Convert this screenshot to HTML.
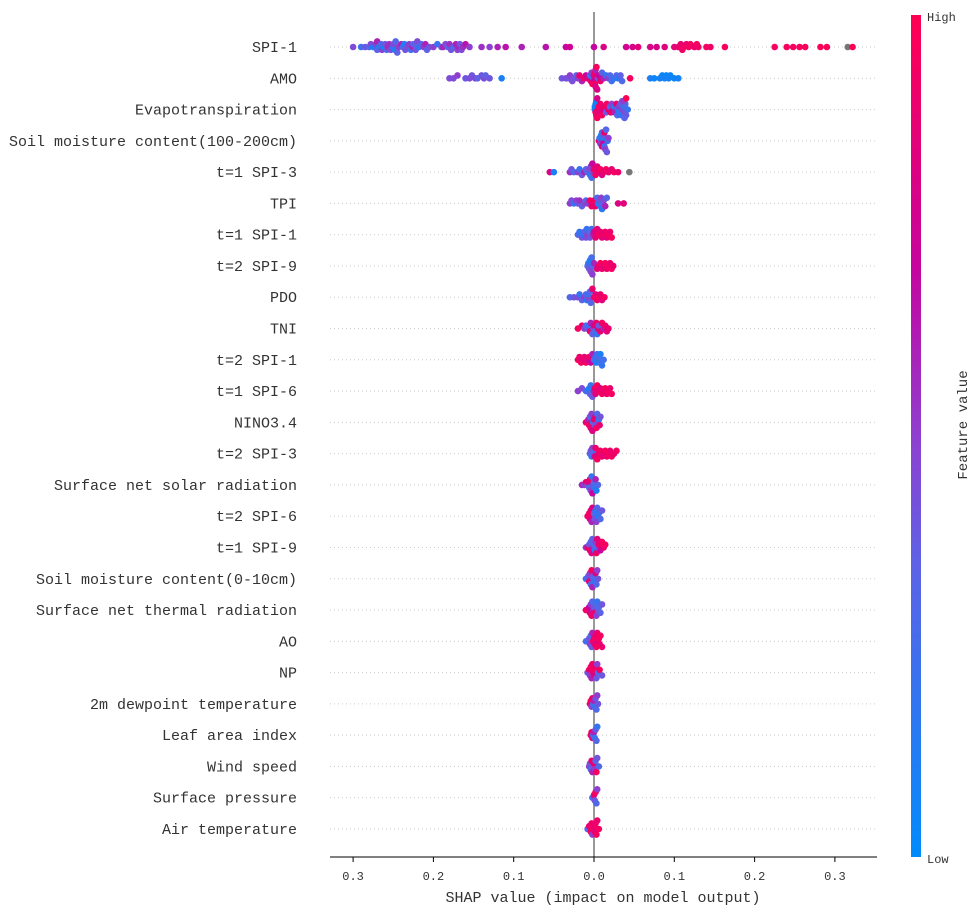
<!DOCTYPE html>
<html><head><meta charset="utf-8"><style>
html,body{margin:0;padding:0;background:#fff;}
svg{display:block;}
text{font-family:"Liberation Mono","Noto Serif CJK SC",monospace;fill:#333;}
</style></head><body>
<svg id="chart" width="978" height="913">
<defs><linearGradient id="cmap" x1="0" y1="1" x2="0" y2="0">
<stop offset="0" stop-color="#008bfb"/><stop offset="0.35" stop-color="#5e62e6"/><stop offset="0.5" stop-color="#8f3fcf"/><stop offset="0.7" stop-color="#c6049f"/><stop offset="1" stop-color="#ff0052"/>
</linearGradient></defs>
<g id="grid"></g><g id="ylabels"></g>
<line x1="594" y1="12" x2="594" y2="857" stroke="#999" stroke-width="2"/>
<g id="dots"></g>
<line x1="330" y1="857" x2="877" y2="857" stroke="#000" stroke-width="1"/>
<g id="xticks"></g>
<text x="603" y="902" font-size="15" text-anchor="middle">SHAP value (impact on model output)</text>
<rect x="911" y="15" width="10" height="842" fill="url(#cmap)"/>
<text x="927" y="21" font-size="12">High</text>
<text x="927" y="863" font-size="12">Low</text>
<text x="967" y="425" font-size="14" text-anchor="middle" transform="rotate(-90 967 425)">Feature value</text>
</svg>
<script>
const features = ["SPI-1","AMO","Evapotranspiration","Soil moisture content(100-200cm)","t=1 SPI-3","TPI","t=1 SPI-1","t=2 SPI-9","PDO","TNI","t=2 SPI-1","t=1 SPI-6","NINO3.4","t=2 SPI-3","Surface net solar radiation","t=2 SPI-6","t=1 SPI-9","Soil moisture content(0-10cm)","Surface net thermal radiation","AO","NP","2m dewpoint temperature","Leaf area index","Wind speed","Surface pressure","Air temperature"];
const tickValues = [-0.3,-0.2,-0.1,0,0.1,0.2,0.3];
const tickLabels = ["0.3","0.2","0.1","0.0","0.1","0.2","0.3"];
const shapValues = [
[-0.30,-0.29,-0.285,-0.28,-0.278,-0.275,-0.272,-0.27,-0.27,-0.268,-0.265,-0.264,-0.262,-0.26,-0.258,-0.257,-0.255,-0.253,-0.25,-0.25,-0.248,-0.247,-0.245,-0.243,-0.24,-0.238,-0.236,-0.235,-0.232,-0.23,-0.228,-0.226,-0.225,-0.222,-0.22,-0.218,-0.215,-0.212,-0.21,-0.208,-0.205,-0.2,-0.195,-0.19,-0.188,-0.185,-0.182,-0.18,-0.178,-0.175,-0.172,-0.17,-0.168,-0.167,-0.165,-0.163,-0.16,-0.155,-0.14,-0.13,-0.12,-0.11,-0.09,-0.06,-0.035,-0.03,0,0.012,0.04,0.048,0.055,0.07,0.078,0.088,0.1,0.105,0.108,0.11,0.112,0.115,0.118,0.12,0.125,0.128,0.13,0.14,0.145,0.163,0.225,0.24,0.248,0.256,0.263,0.282,0.29,0.316,0.322],
[-0.18,-0.175,-0.17,-0.16,-0.155,-0.152,-0.148,-0.145,-0.14,-0.137,-0.135,-0.13,-0.115,-0.04,-0.035,-0.032,-0.03,-0.027,-0.025,-0.022,-0.02,-0.018,-0.015,-0.012,-0.01,-0.008,-0.005,-0.004,-0.003,-0.002,-0.001,0,0,0.001,0.001,0.002,0.002,0.003,0.004,0.005,0.006,0.008,0.01,0.012,0.015,0.018,0.02,0.022,0.025,0.028,0.03,0.033,0.035,0.045,0.07,0.075,0.082,0.085,0.088,0.09,0.093,0.095,0.1,0.105],
[0.001,0.001,0.002,0.002,0.003,0.003,0.004,0.004,0.005,0.006,0.007,0.008,0.01,0.012,0.013,0.015,0.016,0.018,0.02,0.021,0.022,0.024,0.025,0.026,0.028,0.029,0.03,0.031,0.032,0.033,0.034,0.035,0.036,0.037,0.038,0.039,0.04,0.042,0.036,0.038,0.04],
[0.006,0.007,0.008,0.009,0.01,0.01,0.011,0.011,0.012,0.012,0.013,0.013,0.014,0.015,0.016,0.017,0.018],
[-0.055,-0.05,-0.03,-0.028,-0.025,-0.02,-0.018,-0.015,-0.012,-0.01,-0.008,-0.006,-0.005,-0.004,-0.003,-0.002,-0.001,0,0.002,0.004,0.006,0.008,0.01,0.012,0.015,0.018,0.022,0.025,0.03,0.044],
[-0.03,-0.028,-0.025,-0.022,-0.02,-0.018,-0.015,-0.012,-0.01,-0.008,-0.005,-0.003,-0.001,0,0.002,0.004,0.005,0.007,0.008,0.009,0.01,0.011,0.012,0.014,0.016,0.03,0.037],
[-0.02,-0.018,-0.015,-0.013,-0.012,-0.01,-0.009,-0.008,-0.006,-0.005,-0.003,-0.001,0,0.002,0.004,0.006,0.008,0.01,0.012,0.014,0.016,0.018,0.02,0.022],
[-0.008,-0.007,-0.006,-0.005,-0.004,-0.003,-0.002,-0.001,0,0.004,0.006,0.008,0.01,0.012,0.014,0.016,0.018,0.02,0.022,0.024],
[-0.03,-0.025,-0.02,-0.018,-0.015,-0.012,-0.01,-0.009,-0.008,-0.007,-0.006,-0.005,-0.004,-0.002,0,0.002,0.004,0.006,0.008,0.01,0.013],
[-0.02,-0.015,-0.012,-0.01,-0.008,-0.006,-0.005,-0.004,-0.002,-0.001,0,0.001,0.003,0.004,0.005,0.006,0.008,0.01,0.012,0.014,0.016,0.018],
[-0.02,-0.018,-0.016,-0.014,-0.012,-0.01,-0.008,-0.006,-0.004,-0.002,0,0.002,0.003,0.004,0.005,0.006,0.007,0.008,0.01,0.012],
[-0.02,-0.015,-0.01,-0.008,-0.006,-0.005,-0.004,-0.002,0,0.001,0.002,0.004,0.006,0.008,0.01,0.012,0.014,0.016,0.018,0.02,0.022],
[-0.01,-0.008,-0.007,-0.006,-0.005,-0.004,-0.003,-0.002,-0.001,0,0.001,0.002,0.003,0.004,0.005,0.006,0.007,0.008],
[-0.005,-0.004,-0.003,-0.002,-0.001,0,0.001,0.002,0.004,0.006,0.008,0.01,0.012,0.014,0.016,0.018,0.02,0.022,0.025,0.028],
[-0.015,-0.012,-0.01,-0.008,-0.007,-0.006,-0.005,-0.004,-0.003,-0.002,-0.001,0,0.001,0.002,0.003,0.005],
[-0.008,-0.006,-0.005,-0.004,-0.003,-0.002,-0.001,0,0.001,0.002,0.003,0.004,0.005,0.006,0.008,0.01],
[-0.01,-0.008,-0.006,-0.005,-0.004,-0.003,-0.002,-0.001,0,0.001,0.002,0.003,0.004,0.005,0.006,0.008,0.01,0.012,0.014],
[-0.01,-0.008,-0.007,-0.006,-0.005,-0.004,-0.003,-0.002,-0.001,0,0.001,0.002,0.003,0.004,0.005],
[-0.01,-0.008,-0.006,-0.005,-0.004,-0.003,-0.002,-0.001,0,0.001,0.002,0.003,0.004,0.005,0.006,0.008,0.01],
[-0.01,-0.008,-0.006,-0.005,-0.004,-0.003,-0.002,-0.001,0,0.001,0.002,0.003,0.004,0.005,0.006,0.007,0.008,0.01],
[-0.008,-0.006,-0.005,-0.004,-0.003,-0.002,-0.001,0,0.001,0.002,0.003,0.004,0.005,0.007,0.01],
[-0.005,-0.004,-0.003,-0.002,-0.001,0,0.001,0.002,0.003,0.004,0.005],
[-0.004,-0.003,-0.002,-0.001,0,0.001,0.002,0.003,0.004],
[-0.006,-0.005,-0.004,-0.003,-0.002,-0.001,0,0.001,0.002,0.003,0.004,0.006],
[-0.002,-0.001,0,0.001,0.002,0.003,0.004],
[-0.008,-0.006,-0.004,-0.003,-0.002,-0.001,0,0.001,0.002,0.003,0.004,0.006]
];
const featureValues = [
[0.45,0.2,0.4,0.3,0.45,0.1,0.5,0.35,0.6,0.2,0.3,0.5,0.05,0.4,0.3,0.55,0.55,0.45,0.2,0.45,0.1,0.3,0.35,0.5,0.6,0.3,0.1,0.4,0.45,0.5,0.25,0.6,0.35,0.4,0.45,0.2,0.3,0.5,0.6,0.35,0.4,0.5,0.2,0.35,0.6,0.45,0.3,0.55,0.4,0.3,0.6,0.5,0.6,0.4,0.45,0.55,0.65,0.5,0.55,0.5,0.6,0.65,0.6,0.65,0.7,0.75,0.7,0.8,0.75,0.8,0.85,0.8,0.78,0.82,0.85,0.9,0.88,0.92,0.95,0.9,0.93,0.95,0.9,0.95,0.93,0.95,0.92,0.95,0.95,0.96,0.95,0.97,0.96,0.98,0.97,null,0.98],
[0.45,0.45,0.5,0.4,0.45,0.4,0.45,0.35,0.4,0.45,0.35,0.4,0.1,0.4,0.45,0.4,0.5,0.45,0.4,0.35,0.5,0.9,0.6,0.95,0.7,0.8,0.2,0.9,0.5,0.95,0.3,0.85,0.7,0.9,0.95,0.6,0.8,0.95,0.8,0.4,0.7,0.9,0.3,0.6,0.2,0.5,0.3,0.25,0.2,0.3,0.15,0.35,0.3,0.95,0.1,0.05,0.08,0.05,0.1,0.05,0.08,0.05,0.06,0.08],
[0.1,0.05,0.95,0.1,0.9,0.05,0.95,0.8,0.9,0.95,0.85,0.9,0.95,0.8,0.9,0.4,0.95,0.85,0.3,0.9,0.5,0.8,0.2,0.6,0.9,0.3,0.1,0.5,0.2,0.4,0.15,0.3,0.5,0.2,0.45,0.3,0.4,0.2,0.5,0.35],
[0.9,0.2,0.5,0.1,0.8,0.3,0.6,0.1,0.7,0.4,0.2,0.9,0.5,0.3,0.4,0.2,0.5],
[0.8,0.1,0.55,0.4,0.3,0.5,0.2,0.4,0.6,0.35,0.3,0.45,0.15,0.5,0.25,0.7,0.5,0.9,0.95,0.85,0.9,0.95,0.8,0.9,0.95,0.9,0.85,0.95,0.9,null],
[0.5,0.45,0.2,0.5,0.4,0.55,0.35,0.45,0.3,0.5,0.95,0.9,0.85,0.95,0.9,0.3,0.1,0.4,0.2,0.5,0.15,0.35,0.45,0.6,0.3,0.8,0.85],
[0.3,0.2,0.4,0.1,0.35,0.45,0.2,0.5,0.3,0.4,0.25,0.6,0.8,0.9,0.85,0.95,0.9,0.85,0.95,0.9,0.85,0.95,0.9,0.95],
[0.3,0.2,0.4,0.1,0.45,0.25,0.5,0.3,0.6,0.85,0.9,0.95,0.9,0.85,0.95,0.9,0.95,0.9,0.95,0.9],
[0.3,0.4,0.45,0.2,0.35,0.5,0.3,0.1,0.4,0.2,0.45,0.35,0.3,0.9,0.95,0.85,0.9,0.95,0.9,0.85,0.95],
[0.95,0.9,0.5,0.3,0.4,0.2,0.9,0.6,0.35,0.5,0.8,0.3,0.9,0.2,0.85,0.4,0.9,0.95,0.6,0.9,0.85,0.9],
[0.95,0.9,0.95,0.85,0.9,0.95,0.8,0.9,0.7,0.6,0.3,0.2,0.1,0.25,0.15,0.3,0.2,0.1,0.2,0.25],
[0.5,0.45,0.3,0.2,0.1,0.35,0.2,0.4,0.6,0.9,0.85,0.95,0.9,0.85,0.95,0.9,0.95,0.9,0.95,0.9,0.95],
[0.9,0.85,0.6,0.95,0.3,0.9,0.5,0.8,0.2,0.9,0.4,0.85,0.95,0.3,0.5,0.2,0.9,0.4],
[0.3,0.4,0.2,0.5,0.35,0.3,0.8,0.9,0.95,0.9,0.95,0.9,0.85,0.95,0.9,0.95,0.9,0.95,0.9,0.95],
[0.6,0.5,0.9,0.4,0.8,0.3,0.95,0.5,0.2,0.7,0.4,0.3,0.2,0.6,0.1,0.3],
[0.9,0.95,0.85,0.9,0.6,0.8,0.9,0.3,0.4,0.2,0.5,0.3,0.1,0.2,0.3,0.4],
[0.5,0.9,0.4,0.95,0.3,0.8,0.35,0.6,0.3,0.2,0.5,0.9,0.85,0.4,0.9,0.7,0.95,0.9,0.95],
[0.2,0.3,0.4,0.9,0.5,0.3,0.95,0.6,0.4,0.3,0.2,0.8,0.3,0.5,0.4],
[0.9,0.95,0.7,0.8,0.5,0.9,0.3,0.6,0.4,0.9,0.3,0.5,0.2,0.4,0.3,0.35,0.4],
[0.3,0.2,0.4,0.5,0.3,0.4,0.6,0.9,0.95,0.85,0.9,0.95,0.9,0.85,0.95,0.9,0.95,0.9],
[0.4,0.9,0.5,0.95,0.6,0.9,0.85,0.95,0.8,0.9,0.4,0.5,0.3,0.95,0.4],
[0.9,0.95,0.5,0.9,0.3,0.6,0.2,0.4,0.3,0.5,0.4],
[0.95,0.9,0.85,0.3,0.6,0.2,0.4,0.3,0.2],
[0.5,0.4,0.3,0.9,0.6,0.4,0.9,0.5,0.3,0.95,0.4,0.3],
[0.2,0.3,0.9,0.4,0.95,0.3,0.5],
[0.3,0.9,0.95,0.9,0.5,0.95,0.9,0.85,0.9,0.95,0.9,0.95]
];

const NS = "http://www.w3.org/2000/svg";
const X0 = 594, PX_PER_UNIT = 803, ROW0 = 47, ROW_STEP = 31.28;
function xScale(v){ return X0 + v * PX_PER_UNIT; }
function yRow(i){ return ROW0 + i * ROW_STEP; }
function lerp(a,b,t){ return a + (b-a)*t; }
const stops = [[0,[0,139,251]],[0.35,[94,98,230]],[0.5,[143,63,207]],[0.7,[198,4,159]],[1,[255,0,82]]];
function colorOf(f){
  if (f === null) return "#777";
  for (let k=1;k<stops.length;k++){
    if (f <= stops[k][0]){
      const t = (f - stops[k-1][0])/(stops[k][0]-stops[k-1][0]);
      const a = stops[k-1][1], b = stops[k][1];
      return "rgb("+Math.round(lerp(a[0],b[0],t))+","+Math.round(lerp(a[1],b[1],t))+","+Math.round(lerp(a[2],b[2],t))+")";
    }
  }
  return "#ff0052";
}
function mk(tag, attrs, parent){
  const e = document.createElementNS(NS, tag);
  for (const k in attrs) e.setAttribute(k, attrs[k]);
  parent.appendChild(e);
  return e;
}
const grid = document.getElementById("grid"), yl = document.getElementById("ylabels"), dots = document.getElementById("dots"), xt = document.getElementById("xticks");
features.forEach(function(name, i){
  const y = yRow(i);
  const g = mk("line", {x1:330, x2:877, y1:y, y2:y, stroke:"#ccc", "stroke-width":1, "stroke-dasharray":"1,3"}, grid);
  
  
  const t = mk("text", {x:297, y:y+5, "font-size":15, "text-anchor":"end"}, yl);
  t.textContent = name;
  
  
  const vals = shapValues[i], fvs = featureValues[i];
  const bins = {};
  vals.forEach(function(v, j){
    const px = xScale(v);
    const b = Math.round(px / 5);
    const n = bins[b] || 0; bins[b] = n + 1;
    const off = (n % 2 === 0 ? 1 : -1) * Math.ceil(n/2) * 2.8;
    const c = mk("circle", {cx:px, cy:y + Math.max(-12, Math.min(12, off)), r:3.3, fill:colorOf(fvs[j])}, dots);
    
    
  });
});
tickValues.forEach(function(v, k){
  const x = xScale(v);
  const l = mk("line", {x1:x, x2:x, y1:857, y2:862, stroke:"#000"}, xt);
  
  
  const t = mk("text", {x:x, y:880, "font-size":12, "text-anchor":"middle"}, xt);
  t.textContent = tickLabels[k];
  
  
});
</script>
</body></html>
